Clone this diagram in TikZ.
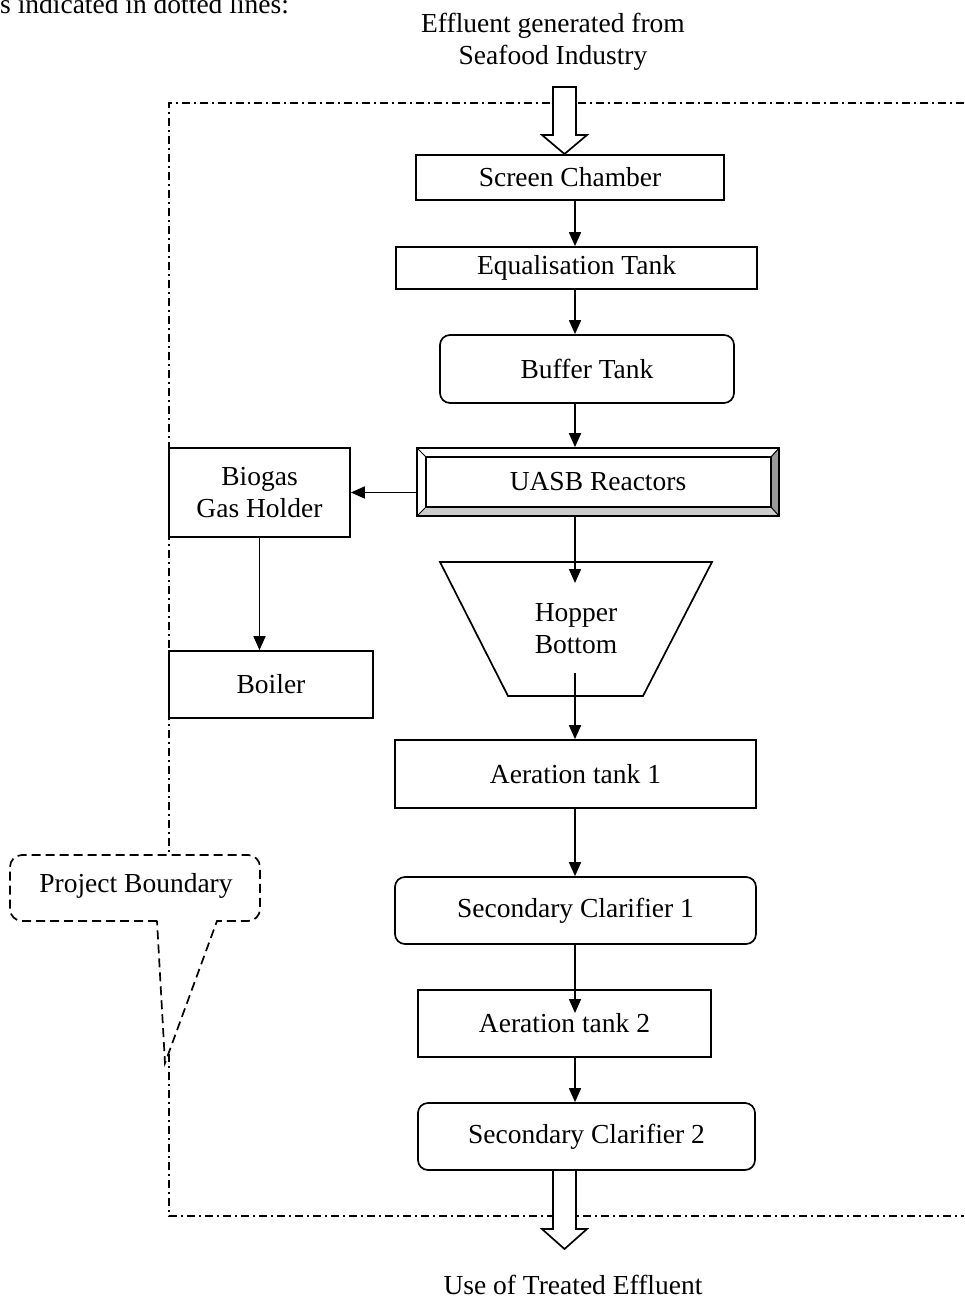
\documentclass[tikz,border=0pt]{standalone}
\usepackage{fontspec}
\setmainfont{Liberation Serif}
\usepackage{tikz}
\usetikzlibrary{shapes,arrows,arrows.meta,positioning}
\newcommand{\fs}{\fontsize{27.5}{32}\selectfont}
\definecolor{bevdark}{gray}{0.6}
\definecolor{bevlight}{gray}{0.8}
\tikzstyle{box} = [rectangle, draw, line width=1.7pt, fill=white, inner sep=0pt, align=center, font=\fs]
\tikzstyle{rbox} = [box, rounded corners=10pt]
\tikzstyle{txt} = [inner sep=0pt, align=center, font=\fs]
\tikzstyle{line} = [draw, line width=1.7pt, -{Triangle[width=12pt,length=14pt]}]
\tikzstyle{plain} = [draw, line width=1.7pt]
\tikzstyle{bound} = [draw, line width=1.1pt, dash pattern=on 8pt off 4pt on 2pt off 4pt]
\tikzstyle{callout} = [draw, line width=1.7pt, dash pattern=on 9pt off 5pt, fill=white]
\tikzstyle{hollow} = [draw, line width=1.7pt, fill=white]

\begin{document}
\begin{tikzpicture}[x=1pt, y=-1pt]
			\useasboundingbox (0,0) rectangle (964,1298);

			% project boundary
			\path [bound] (964,103) -- (169,103) -- (169,1216) -- (964,1216);

			\node [txt, anchor=base west] (note) at (0,14) {s indicated in dotted lines:};
			\node [txt] (src) at (553,42) {Effluent generated from\\Seafood Industry};
			\node [txt] (use) at (573,1285) {Use of Treated Effluent};

			\coordinate (spine) at (575,0);

			\node [box, minimum width=308, minimum height=45] (screen) at (570,177.5) {Screen Chamber};
			\node [box, minimum width=361, minimum height=42] (equal) at (576.5,268) {Equalisation Tank};
			\node [rbox, minimum width=294, minimum height=68] (buffer) at (587,369) {Buffer Tank};

			% UASB with bevel
			\fill [bevdark] (779,448) -- (779,516) -- (771,507) -- (771,457) -- cycle;
			\fill [bevlight] (417,516) -- (779,516) -- (771,507) -- (426,507) -- cycle;
			\node [box, fill=none, minimum width=362, minimum height=68] (uasb) at (598,482) {UASB Reactors};
			\draw [line width=1.7pt] (426,457) rectangle (771,507);
			\draw [line width=1pt] (417,448) -- (426,457) (779,448) -- (771,457)
				(417,516) -- (426,507) (779,516) -- (771,507);

			\node [box, minimum width=181, minimum height=89] (biogas) at (259.5,492.5) {Biogas\\Gas Holder};
			\node [box, minimum width=204, minimum height=67] (boiler) at (271,684.5) {Boiler};

			% hopper bottom
			\path [plain] (440,562) -- (712,562) -- (643,696) -- (508,696) -- cycle;
			\node [txt] (hopper) at (576,629) {Hopper\\Bottom};
			\coordinate (hopin) at (575,583);
			\coordinate (hopout) at (575,673);

			\node [box, minimum width=361, minimum height=68] (aer1) at (575.5,774) {Aeration tank 1};
			\node [rbox, minimum width=361, minimum height=67] (clar1) at (575.5,910.5) {Secondary Clarifier 1};
			\node [box, minimum width=293, minimum height=67] (aer2) at (564.5,1023.5) {Aeration tank 2};
			\coordinate (aer2in) at (575,1013);
			\node [rbox, minimum width=337, minimum height=67] (clar2) at (586.5,1136.5) {Secondary Clarifier 2};

			% callout
			\path [callout, rounded corners=12pt] (157,921) -- (10,921) -- (10,855) -- (260,855) -- (260,921)
				[sharp corners] -- (217,921) -- (165,1063) -- cycle;
			\node [txt] (project) at (136,886) {Project Boundary};

			% hollow arrows
			\path [hollow] (553,87) -- (576,87) -- (576,135) -- (587,135) -- (564.5,154) -- (542,135) -- (553,135) -- cycle;
			\path [hollow] (553,1170) -- (576,1170) -- (576,1229) -- (587,1229) -- (564.5,1249) -- (542,1229) -- (553,1229) -- cycle;

			\path [line] (screen.south -| spine) -- (equal.north -| spine);
			\path [line] (equal.south -| spine) -- (buffer.north -| spine);
			\path [line] (buffer.south -| spine) -- (uasb.north -| spine);
			\path [line] (biogas.east -| uasb.west) -- (biogas.east);
			\path [line] (biogas.south) -- (boiler.north -| biogas.south);
			\path [line] (uasb.south -| spine) -- (hopin);
			\path [line] (hopout) -- (aer1.north -| spine);
			\path [line] (aer1.south -| spine) -- (clar1.north -| spine);
			\path [line] (clar1.south -| spine) -- (aer2in);
			\path [line] (aer2.south -| spine) -- (clar2.north -| spine);
		\end{tikzpicture}
\end{document}
